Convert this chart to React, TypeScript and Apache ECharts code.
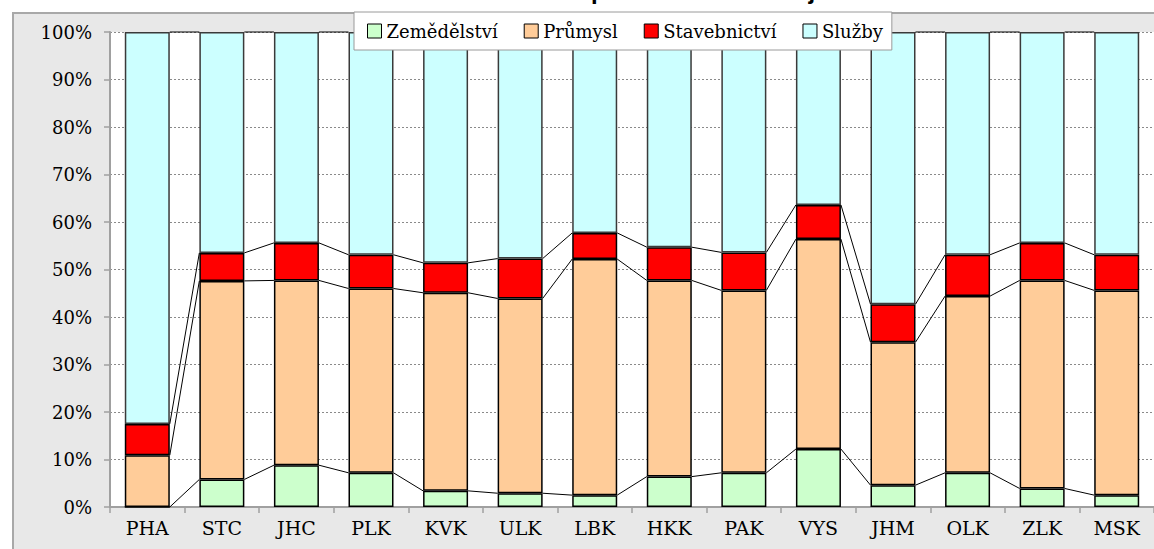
import React, { useEffect, useRef } from "react";
import * as echarts from "echarts";

const categories = ["PHA", "STC", "JHC", "PLK", "KVK", "ULK", "LBK", "HKK", "PAK", "VYS", "JHM", "OLK", "ZLK", "MSK"];
const seriesNames = ["Zemědělství", "Průmysl", "Stavebnictví", "Služby"];
const agriculture = [0.0, 5.8, 8.8, 7.2, 3.4, 2.9, 2.5, 6.4, 7.2, 12.2, 4.6, 7.2, 3.9, 2.5];
const industry = [10.9, 41.8, 38.9, 38.8, 41.7, 41.0, 49.7, 41.3, 38.4, 44.2, 30.1, 37.2, 43.8, 43.1];
const construction = [6.6, 5.9, 7.9, 7.1, 6.3, 8.4, 5.5, 7.0, 8.0, 7.2, 8.0, 8.7, 7.9, 7.5];
const services = [82.5, 46.5, 44.4, 46.9, 48.6, 47.7, 42.3, 45.3, 46.4, 36.4, 57.3, 46.9, 44.4, 46.9];
const titleText = "Struktura zaměstnanosti podle odvětví v krajích";

const colors = ["#ccffcc", "#ffcc99", "#ff0000", "#ccffff"];
const borderColors = ["#000", "#000", "#000", "#3a3a3a"];
const SERIF = "DejaVu Serif";
const BAR_W = 45;

export default function App() {
  const ref = useRef<HTMLDivElement>(null);

  useEffect(() => {
    if (!ref.current) return;
    const chart = echarts.init(ref.current, undefined, { renderer: "svg" });

    const values = [agriculture, industry, construction, services];
    const cum: number[][] = [];
    let run = categories.map(() => 0);
    values.forEach((arr) => {
      run = run.map((v, i) => Math.round((v + arr[i]) * 100) / 100);
      cum.push(run.slice());
    });
    const lineData: number[][] = [];
    for (let i = 0; i < categories.length - 1; i++) {
      const row = [i];
      cum.forEach((c) => {
        row.push(c[i], c[i + 1]);
      });
      lineData.push(row);
    }

    const barSeries = values.map((arr, k) => ({
      name: seriesNames[k],
      type: "bar",
      stack: "total",
      barWidth: BAR_W,
      data: arr,
      itemStyle: { color: colors[k], borderColor: borderColors[k], borderWidth: 1.5 },
      emphasis: { disabled: true },
    }));

    const option: any = {
      animation: false,
      backgroundColor: "transparent",
      textStyle: { fontFamily: SERIF },
      graphic: [
        {
          type: "text",
          x: 577,
          y: -22,
          style: {
            text: titleText,
            fontFamily: "sans-serif",
            fontWeight: "bold",
            fontSize: 24,
            fill: "#000",
            textAlign: "center",
          },
        },
      ],
      legend: {
        data: seriesNames,
        left: 354,
        top: 12,
        orient: "horizontal",
        itemWidth: 14,
        itemHeight: 14,
        itemGap: 26,
        icon: "rect",
        padding: [10, 9, 10, 13],
        backgroundColor: "#fff",
        borderColor: "#9a9a9a",
        borderWidth: 1,
        itemStyle: { borderColor: "#000", borderWidth: 1 },
        textStyle: { fontFamily: SERIF, fontSize: 18, color: "#000" },
        selectedMode: false,
      },
      grid: {
        left: 110,
        top: 32,
        width: 1050,
        height: 475,
        show: true,
        backgroundColor: "#fff",
        borderWidth: 0,
        containLabel: false,
      },
      xAxis: {
        type: "category",
        data: categories,
        boundaryGap: true,
        axisLine: { show: true, lineStyle: { color: "#a0a0a0", width: 2 } },
        axisTick: { show: true, inside: false, length: 6, lineStyle: { color: "#a0a0a0", width: 1.5 } },
        axisLabel: { fontFamily: SERIF, fontSize: 19, color: "#000", margin: 11 },
        splitLine: { show: false },
      },
      yAxis: {
        type: "value",
        min: 0,
        max: 100,
        interval: 10,
        axisLine: { show: true, lineStyle: { color: "#a0a0a0", width: 2 } },
        axisTick: { show: true, inside: false, length: 6, lineStyle: { color: "#a0a0a0", width: 1.5 } },
        axisLabel: { fontFamily: SERIF, fontSize: 18, color: "#000", margin: 18, formatter: "{value}%" },
        splitLine: { show: true, lineStyle: { color: "#8a8a8a", width: 1, type: [2, 2] } },
      },
      series: [
        ...barSeries,
        {
          name: "seriesLines",
          type: "custom",
          data: lineData,
          encode: { x: 0, y: 1 },
          silent: true,
          z: 3,
          renderItem: (_params: any, api: any) => {
            const i = api.value(0);
            const half = BAR_W / 2;
            const children: any[] = [];
            for (let k = 0; k < 4; k++) {
              const p1 = api.coord([i, api.value(1 + 2 * k)]);
              const p2 = api.coord([i + 1, api.value(2 + 2 * k)]);
              children.push({
                type: "line",
                shape: { x1: p1[0] + half, y1: p1[1], x2: p2[0] - half, y2: p2[1] },
                style: { stroke: "#000", lineWidth: 1 },
              });
            }
            return { type: "group", children };
          },
        },
      ],
    };

    chart.setOption(option);
    return () => chart.dispose();
  }, []);

  return (
    <div style={{ position: "absolute", left: 0, top: 0, width: 1154, height: 549, background: "#fff", overflow: "hidden" }}>
      <div
        style={{
          position: "absolute",
          left: 12,
          top: 12,
          width: 1200,
          height: 600,
          background: "#e8e8e8",
          border: "2px solid #a8a8a8",
          boxSizing: "border-box",
        }}
      />
      <div ref={ref} style={{ position: "absolute", left: 0, top: 0, width: 1154, height: 549 }} />
    </div>
  );
}
